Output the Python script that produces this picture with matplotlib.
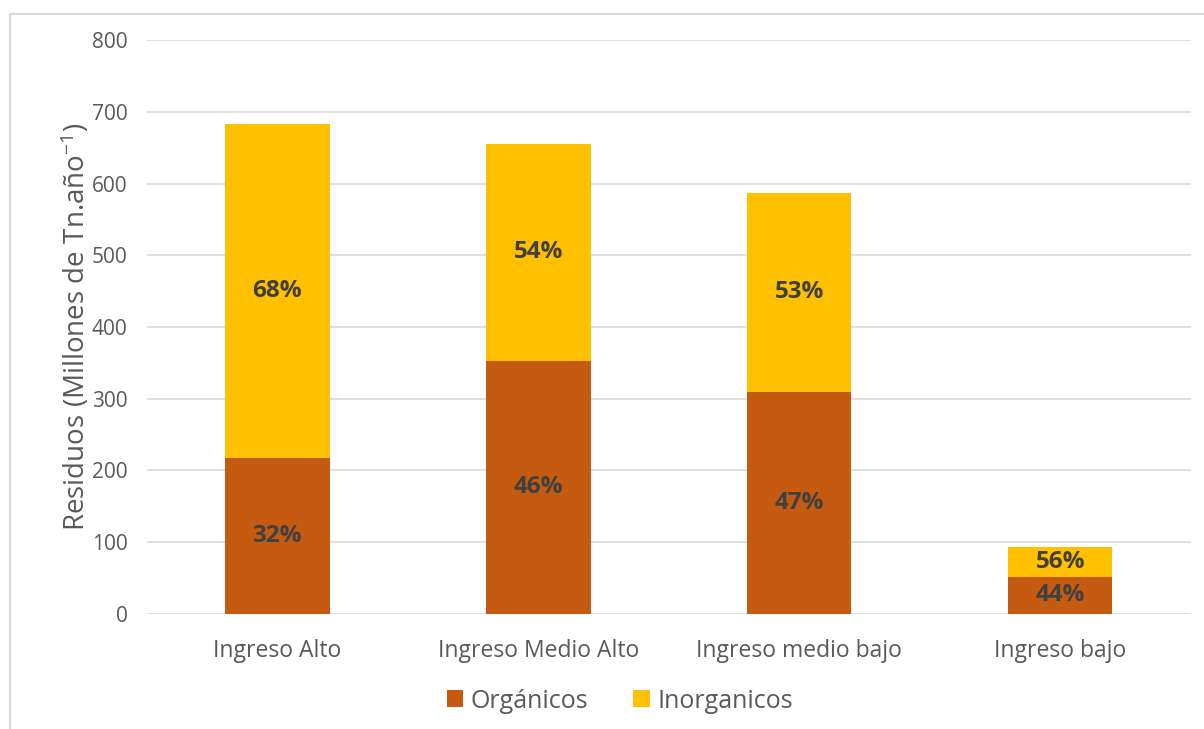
import matplotlib.pyplot as plt
import numpy as np
from matplotlib.patches import Rectangle

plt.rcParams['font.family'] = ['Open Sans', 'DejaVu Sans']
plt.rcParams['mathtext.default'] = 'regular'

categorias = ['Ingreso Alto', 'Ingreso Medio Alto', 'Ingreso medio bajo', 'Ingreso bajo']
organicos = [217, 353, 310, 52]
inorganicos = [466, 302, 277, 41]
pct_org = ['32%', '46%', '47%', '44%']
pct_inorg = ['68%', '54%', '53%', '56%']

c_org = '#C55A11'
c_inorg = '#FFC000'
gris = '#595959'

fig = plt.figure(figsize=(12.04, 7.29), dpi=100)
ax = fig.add_axes([0.122, 0.158, 0.867, 0.787])

x = np.arange(len(categorias))
b1 = ax.bar(x, organicos, width=0.4, color=c_org, label='Orgánicos', zorder=3)
b2 = ax.bar(x, inorganicos, width=0.4, bottom=organicos, color=c_inorg,
            label='Inorganicos', zorder=3)

ax.bar_label(b1, labels=pct_org, label_type='center', fontsize=17.5,
             fontweight='bold', color='#404040')
ax.bar_label(b2, labels=pct_inorg, label_type='center', fontsize=17.5,
             fontweight='bold', color='#404040')

ax.set_xlim(-0.5, len(categorias) - 0.5)
ax.set_ylim(0, 800)
ax.set_yticks(range(0, 801, 100))
ax.yaxis.grid(True, color='#D9D9D9', linewidth=1.2, zorder=0)
for s in ax.spines.values():
    s.set_visible(False)
ax.tick_params(axis='y', length=0, colors=gris, labelsize=15, pad=14)
ax.tick_params(axis='x', length=0, colors=gris, labelsize=16.5, pad=18)
ax.set_xticks(x)
ax.set_xticklabels(categorias)
ax.set_ylabel('Residuos (Millones de Tn.año$^{-1}$)', fontsize=20, color=gris, labelpad=0)

ax.legend(loc='center', bbox_to_anchor=(0.453, -0.152), ncol=2, frameon=False,
          fontsize=18, labelcolor=gris, handlelength=0.65, handleheight=0.65,
          handletextpad=0.3, columnspacing=1.8)

fig.patches.append(Rectangle((10 / 1204, -0.01), 1.0, 1 - 14 / 729 + 0.01,
                             transform=fig.transFigure, fill=False,
                             edgecolor='#D9D9D9', linewidth=1.5))

fig.savefig('out.png', dpi=100)
